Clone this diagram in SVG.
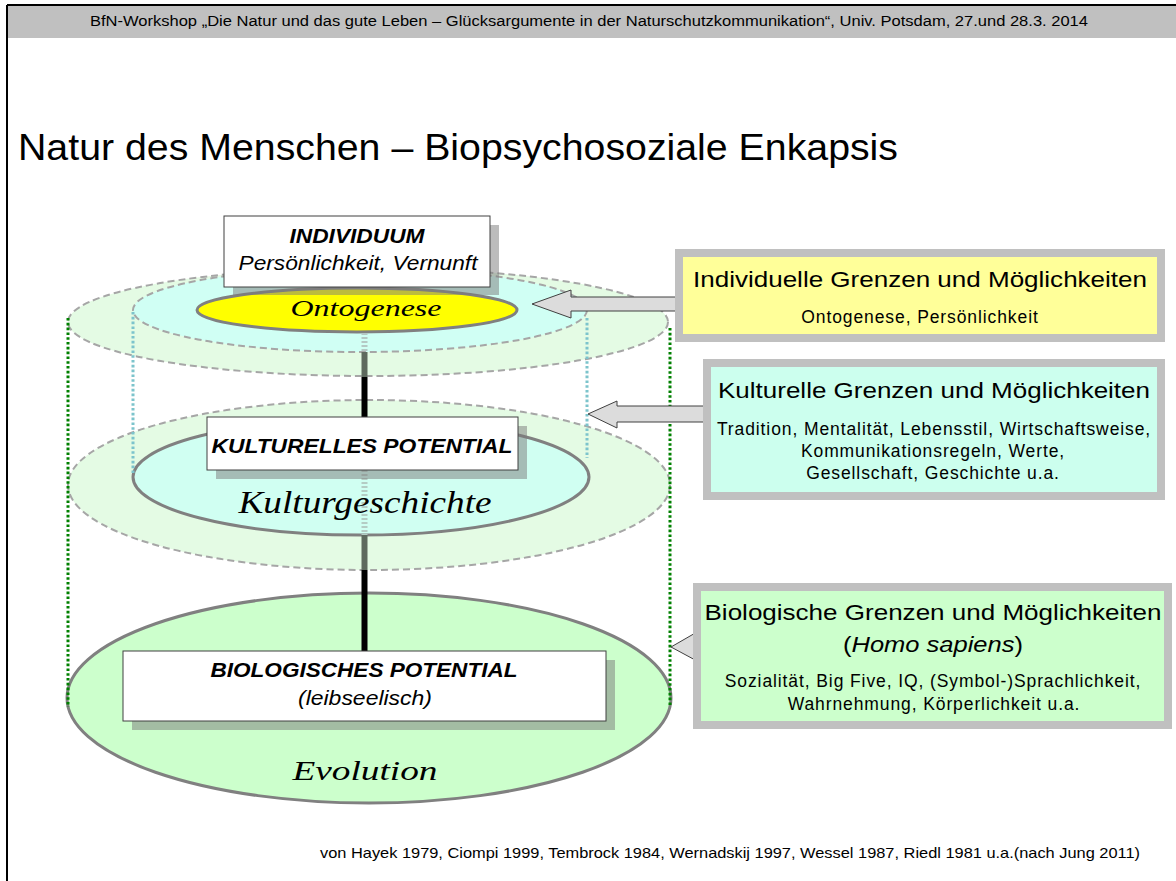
<svg xmlns="http://www.w3.org/2000/svg" width="1176" height="881" viewBox="0 0 1176 881">
<defs>
<style>
.sans{font-family:"Liberation Sans",Arial,sans-serif;fill:#000}
.small{font-size:17.5px;letter-spacing:0.9px}
.script{font-family:"Liberation Serif","DejaVu Serif",serif;font-style:italic;fill:#000}
.bi{font-weight:bold;font-style:italic}
.it{font-style:italic}
.dashring{stroke:#a6a6a6;stroke-width:2;stroke-dasharray:7 4}
.solidring{stroke:#808080;stroke-width:3}
.box{fill:#fff;stroke:#404040;stroke-width:1}
.shadow{fill:#7a7a7a;opacity:0.5}
.frame{fill:#c0c0c0}
.arrow{fill:#dcdcdc;stroke:#404040;stroke-width:1;stroke-linejoin:miter}
.gdot{stroke:#008000;stroke-width:3;stroke-dasharray:2.6 2.2;fill:none}
.cdot{stroke:#7cc4cc;stroke-width:3;stroke-dasharray:2.6 2.2;fill:none}
</style>
</defs>
<rect width="1176" height="881" fill="#fff"/>
<g id="header">
<rect x="7" y="5" width="1169" height="33" fill="#c0c0c0"/>
<line x1="7" y1="5" x2="1176" y2="5" stroke="#000" stroke-width="2"/>
<line x1="7" y1="5" x2="7" y2="881" stroke="#000" stroke-width="2"/>
<text class="sans" x="589" y="26" font-size="14" text-anchor="middle" fill="#333" textLength="998" lengthAdjust="spacingAndGlyphs">BfN-Workshop „Die Natur und das gute Leben – Glücksargumente in der Naturschutzkommunikation“, Univ. Potsdam, 27.und 28.3. 2014</text>
</g>
<text id="title" class="sans" x="18" y="160" font-size="37" textLength="880" lengthAdjust="spacingAndGlyphs">Natur des Menschen – Biopsychosoziale Enkapsis</text>

<g id="level3">
<ellipse cx="369" cy="698" rx="302" ry="105" fill="#ccffcc" class="solidring"/>
</g>
<g id="level2">
<ellipse cx="369" cy="485" rx="301" ry="85" fill="#e4fbe4" class="dashring"/>
<ellipse cx="361" cy="477" rx="228" ry="58" fill="#d0fff2" class="solidring"/>
</g>
<g id="level1">
<ellipse cx="368" cy="322" rx="300" ry="54" fill="#e4fbe4" class="dashring"/>
<ellipse cx="360" cy="310" rx="227" ry="42" fill="#d0fff4" class="dashring"/>
<ellipse cx="357" cy="310" rx="160" ry="22" fill="#ffff00" class="solidring"/>
</g>

<g id="connectors">
<line x1="364.5" y1="333" x2="364.5" y2="352" stroke="#b4c8c4" stroke-width="6" stroke-dasharray="2 2"/>
<line x1="364.5" y1="352" x2="364.5" y2="377" stroke="#5e6a5e" stroke-width="6"/>
<line x1="364.5" y1="377" x2="364.5" y2="418" stroke="#000" stroke-width="6"/>
<line x1="364.5" y1="470" x2="364.5" y2="535" stroke="#b4ccc4" stroke-width="6" stroke-dasharray="2 2"/>
<line x1="364.5" y1="535" x2="364.5" y2="570" stroke="#5e6a5e" stroke-width="6"/>
<line x1="364.5" y1="570" x2="364.5" y2="651" stroke="#000" stroke-width="6"/>
<line class="gdot" x1="68" y1="318" x2="68" y2="707"/>
<line class="gdot" x1="670" y1="328" x2="670" y2="707"/>
<line class="cdot" x1="133" y1="312" x2="133" y2="475"/>
<line class="cdot" x1="587" y1="318" x2="587" y2="458"/>
<polygon class="arrow" points="532,304 571,290 571,297 680,297 680,311 571,311 571,318"/>
<polygon class="arrow" points="588,414 617,401 617,406 706,406 706,422 617,422 617,428"/>
<polygon class="arrow" points="671,647 697,632 697,661"/>
</g>

<g id="ontogenese-label">
<text class="script" x="366" y="316" font-size="24" text-anchor="middle" textLength="151" lengthAdjust="spacingAndGlyphs">Ontogenese</text>
</g>
<g id="kulturgeschichte-label">
<text class="script" x="365" y="513" font-size="32" text-anchor="middle" textLength="253" lengthAdjust="spacingAndGlyphs">Kulturgeschichte</text>
</g>
<g id="evolution-label">
<text class="script" x="365" y="780" font-size="28" text-anchor="middle" textLength="145" lengthAdjust="spacingAndGlyphs">Evolution</text>
</g>

<g id="individuum">
<rect class="shadow" x="233" y="225" width="266" height="70"/>
<rect class="box" x="224" y="216" width="266" height="71"/>
<text class="sans bi" x="357" y="243" font-size="21" text-anchor="middle" textLength="135" lengthAdjust="spacingAndGlyphs">INDIVIDUUM</text>
<text class="sans it" x="358" y="270" font-size="21" text-anchor="middle" textLength="239" lengthAdjust="spacingAndGlyphs">Persönlichkeit, Vernunft</text>
</g>
<g id="kulturelles">
<rect class="shadow" x="216" y="426" width="311" height="53"/>
<rect class="box" x="207" y="417" width="311" height="53"/>
<text class="sans bi" x="362" y="453" font-size="21" text-anchor="middle" textLength="301" lengthAdjust="spacingAndGlyphs">KULTURELLES POTENTIAL</text>
</g>
<g id="biologisches">
<rect class="shadow" x="132" y="660" width="483" height="70"/>
<rect class="box" x="123" y="651" width="483" height="70"/>
<text class="sans bi" x="364" y="677" font-size="21" text-anchor="middle" textLength="307" lengthAdjust="spacingAndGlyphs">BIOLOGISCHES POTENTIAL</text>
<text class="sans it" x="365" y="705" font-size="21" text-anchor="middle" textLength="134" lengthAdjust="spacingAndGlyphs">(leibseelisch)</text>
</g>

<g id="box-individuell">
<rect class="frame" x="675" y="249" width="490" height="93"/>
<rect x="683" y="257" width="474" height="77" fill="#ffff99"/>
<text class="sans" x="920" y="287" font-size="22" text-anchor="middle" textLength="454" lengthAdjust="spacingAndGlyphs">Individuelle Grenzen und Möglichkeiten</text>
<text class="sans small" x="920" y="323" text-anchor="middle">Ontogenese, Persönlichkeit</text>
</g>
<g id="box-kulturell">
<rect class="frame" x="703" y="359" width="462" height="141"/>
<rect x="711" y="367" width="446" height="125" fill="#ccffee"/>
<text class="sans" x="934" y="398" font-size="22" text-anchor="middle" textLength="432" lengthAdjust="spacingAndGlyphs">Kulturelle Grenzen und Möglichkeiten</text>
<text class="sans small" x="934" y="435" text-anchor="middle">Tradition, Mentalität, Lebensstil, Wirtschaftsweise,</text>
<text class="sans small" x="933" y="457" text-anchor="middle">Kommunikationsregeln, Werte,</text>
<text class="sans small" x="933" y="479" text-anchor="middle">Gesellschaft, Geschichte u.a.</text>
</g>
<g id="box-biologisch">
<rect class="frame" x="693" y="583" width="479" height="146"/>
<rect x="701" y="591" width="463" height="130" fill="#ccffcc"/>
<text class="sans" x="933" y="620" font-size="22" text-anchor="middle" textLength="457" lengthAdjust="spacingAndGlyphs">Biologische Grenzen und Möglichkeiten</text>
<text class="sans" x="933" y="652" font-size="22" text-anchor="middle" textLength="180" lengthAdjust="spacingAndGlyphs">(<tspan font-style="italic">Homo sapiens</tspan>)</text>
<text class="sans small" x="933" y="687" text-anchor="middle">Sozialität, Big Five, IQ, (Symbol-)Sprachlichkeit,</text>
<text class="sans small" x="934" y="710" text-anchor="middle">Wahrnehmung, Körperlichkeit u.a.</text>
</g>

<text id="footer" class="sans" x="320" y="858" font-size="15" fill="#333" textLength="820" lengthAdjust="spacingAndGlyphs">von Hayek 1979, Ciompi 1999, Tembrock 1984, Wernadskij 1997, Wessel 1987, Riedl 1981 u.a.(nach Jung 2011)</text>
</svg>
